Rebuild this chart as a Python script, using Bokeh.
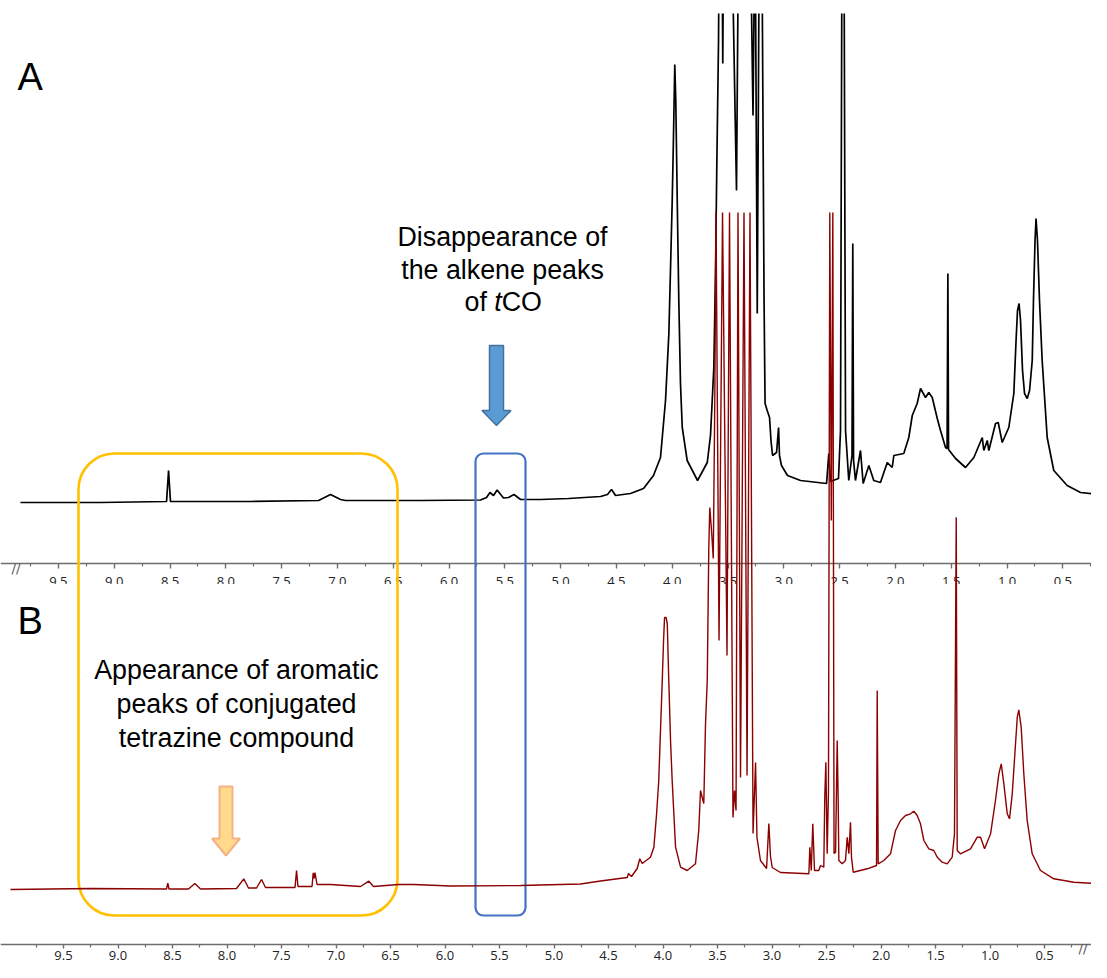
import numpy as np
from bokeh.plotting import figure
from bokeh.models import (Range1d, LinearAxis, FixedTicker, PrintfTickFormatter,
                          BoxAnnotation, Label)
from bokeh.embed import file_html
from bokeh.resources import INLINE

# ---------------- data ----------------
# Spectrum A (black): chemical shift (ppm) and intensity (a.u.)
a_ppm = [9.840, 9.123, 8.531, 8.513, 8.496, 7.779, 7.169, 7.062, 6.972, 6.927,
         6.255, 5.718, 5.664, 5.633, 5.601, 5.569, 5.512, 5.467, 5.418, 5.359,
         5.180, 4.929, 4.642, 4.580, 4.544, 4.508, 4.374, 4.257, 4.168, 4.105,
         4.060, 4.030, 4.015, 4.000, 3.991, 3.977, 3.968, 3.955, 3.941, 3.926,
         3.910, 3.866, 3.773, 3.686, 3.657, 3.627, 3.612, 3.601, 3.585, 3.567,
         3.547, 3.527, 3.487, 3.424, 3.397, 3.316, 3.276, 3.258, 3.238, 3.209,
         3.177, 3.168, 3.149, 3.128, 3.115, 3.101, 3.065, 3.047, 3.039, 3.021,
         2.967, 2.850, 2.617, 2.597, 2.582, 2.510, 2.492, 2.470, 2.447, 2.418,
         2.389, 2.382, 2.375, 2.358, 2.313, 2.289, 2.238, 2.194, 2.134, 2.073,
         2.029, 2.014, 1.925, 1.880, 1.849, 1.805, 1.775, 1.730, 1.701, 1.670,
         1.625, 1.596, 1.551, 1.537, 1.530, 1.524, 1.461, 1.372, 1.297, 1.222,
         1.208, 1.177, 1.163, 1.103, 1.079, 1.043, 0.984, 0.939, 0.919, 0.906,
         0.892, 0.879, 0.861, 0.843, 0.819, 0.798, 0.774, 0.763, 0.749, 0.740,
         0.727, 0.709, 0.685, 0.640, 0.581, 0.461, 0.341, 0.099]
a_int = [3, 3, 4, 35, 4, 4, 5, 11, 6, 5,
         5, 5.5, 8, 13, 10, 15.5, 7.5, 8, 11, 6,
         6, 7, 9, 11, 16, 10, 12, 17, 30, 48,
         105, 172, 238, 305, 355, 441, 405, 305, 205, 122,
         78, 45, 25, 43, 70, 138, 235, 335, 465, 805,
         442, 805, 705, 315, 705, 705, 390, 605, 192, 805,
         205, 102, 95, 88, 65, 50, 53, 78, 50, 40,
         30, 25, 22, 52, 24, 27, 75, 905, 75, 25,
         50, 262, 45, 25, 55, 22, 40, 25, 23, 43,
         38, 50, 52, 68, 90, 102, 117, 108, 113, 108,
         87, 75, 58, 57, 232, 56, 47, 38, 48, 68,
         55, 65, 55, 82, 83, 63, 78, 112, 165, 195,
         202, 185, 135, 112, 107, 115, 145, 205, 265, 287,
         265, 205, 145, 68, 35, 20, 13, 10]

# Spectrum B (dark red): chemical shift (ppm) and intensity (a.u.)
b_ppm = [9.986, 9.252, 8.555, 8.543, 8.532, 8.353, 8.295, 8.243, 7.913, 7.846,
         7.803, 7.729, 7.683, 7.647, 7.376, 7.362, 7.349, 7.220, 7.209, 7.200,
         7.193, 7.174, 7.050, 6.775, 6.699, 6.656, 6.427, 6.289, 5.950, 5.307,
         4.757, 4.573, 4.328, 4.317, 4.289, 4.237, 4.213, 4.191, 4.115, 4.084,
         4.060, 4.039, 4.023, 4.007, 3.995, 3.986, 3.972, 3.961, 3.947, 3.931,
         3.916, 3.885, 3.839, 3.778, 3.702, 3.672, 3.656, 3.640, 3.626, 3.610,
         3.594, 3.580, 3.571, 3.555, 3.539, 3.525, 3.514, 3.486, 3.454, 3.413,
         3.390, 3.358, 3.344, 3.330, 3.312, 3.289, 3.257, 3.229, 3.202, 3.174,
         3.151, 3.138, 3.106, 3.050, 3.029, 3.014, 2.998, 2.922, 2.662, 2.653,
         2.640, 2.626, 2.610, 2.571, 2.555, 2.525, 2.516, 2.506, 2.494, 2.482,
         2.470, 2.456, 2.442, 2.431, 2.417, 2.402, 2.393, 2.387, 2.356, 2.326,
         2.310, 2.295, 2.280, 2.271, 2.255, 2.127, 2.041, 2.035, 2.026, 1.974,
         1.913, 1.867, 1.821, 1.775, 1.729, 1.699, 1.668, 1.638, 1.607, 1.561,
         1.516, 1.484, 1.439, 1.393, 1.347, 1.326, 1.310, 1.301, 1.271, 1.179,
         1.117, 1.087, 1.050, 0.995, 0.950, 0.919, 0.897, 0.873, 0.842, 0.821,
         0.796, 0.772, 0.750, 0.736, 0.714, 0.690, 0.659, 0.613, 0.537, 0.415,
         0.231, -0.014]
b_int = [3, 4, 3.5, 9.3, 3.5, 3.5, 9, 3.5, 4, 13.7,
         4.5, 4.5, 13, 5, 5, 22, 6, 6, 19.7, 14,
         20, 8, 8, 6, 11.3, 6, 8, 8, 6.5, 7,
         8.5, 11.5, 15, 19, 16, 24, 33.7, 29, 35.3, 45.3,
         77, 112, 162, 212, 252, 275, 275, 269, 212, 152,
         112, 45.3, 25.3, 22, 28.7, 62, 102, 95, 89, 169,
         212, 345, 385, 362, 334, 492, 792, 252, 792, 237,
         792, 75, 102, 82, 792, 115, 792, 117, 792, 59,
         130, 55, 32, 24, 69, 36, 25, 20, 18.7, 45.3,
         22, 68.7, 22, 22, 27, 25.3, 95.3, 130.3, 38.7, 102,
         792, 372, 792, 39, 40.3, 152, 92, 32, 28.7, 32,
         55.3, 38.7, 70.3, 35.3, 20.3, 23.7, 27, 202, 28.7, 32,
         38.7, 62, 72, 77, 78.7, 81.3, 77, 68.7, 52, 43.7,
         42, 35.3, 30.3, 28.7, 35.3, 59, 375.3, 42, 38.7, 43.7,
         55.3, 55.3, 43.7, 58.7, 92, 118.7, 128.7, 108.7, 78.7, 73.7,
         98.7, 138.7, 175.3, 182.7, 165.3, 118.7, 72, 38.7, 22, 13.7,
         10.3, 8.7]

# axis ticks (ppm)
major_ticks = [0.5, 1.0, 1.5, 2.0, 2.5, 3.0, 3.5, 4.0, 4.5, 5.0,
               5.5, 6.0, 6.5, 7.0, 7.5, 8.0, 8.5, 9.0, 9.5]
minor_ticks = [0.25, 0.75, 1.25, 1.75, 2.25, 2.75, 3.25, 3.75, 4.25, 4.75,
               5.25, 5.75, 6.25, 6.75, 7.25, 7.75, 8.25, 8.75, 9.25, 9.75]

B_CLIP = 680  # spectrum B is cut off at this intensity in the figure

# ---------------- figure ----------------
p = figure(width=1091, height=962, x_range=Range1d(10.078, 0.069),
           y_range=Range1d(962, 13), x_axis_type=None, y_axis_type=None,
           toolbar_location=None, output_backend="svg",
           min_border=0, min_border_top=13, outline_line_color=None)
p.background_fill_color = "white"
p.border_fill_color = "white"
p.extra_x_ranges = {"A": Range1d(10.019, 0.243), "px": Range1d(0, 1091)}
p.extra_y_ranges = {"A": Range1d(-457, 492), "B": Range1d(-70, 879)}

p.line(a_ppm, a_int, x_range_name="A", y_range_name="A",
       line_color="black", line_width=1.7)


def make_axis(loc, range_name="default", tick_out=5, standoff=4):
    return LinearAxis(
        x_range_name=range_name, fixed_location=loc,
        ticker=FixedTicker(ticks=major_ticks, minor_ticks=minor_ticks),
        formatter=PrintfTickFormatter(format="%.1f"),
        axis_line_color="#6e6e6e", axis_line_width=1.6,
        major_tick_line_color="#6e6e6e", major_tick_line_width=1.4,
        major_tick_in=0, major_tick_out=tick_out,
        minor_tick_line_color="#6e6e6e", minor_tick_line_width=1.2,
        minor_tick_in=0, minor_tick_out=3,
        major_label_text_font="Open Sans", major_label_text_font_size="13px",
        major_label_text_color="#222222", major_label_standoff=standoff)


p.add_layout(make_axis(563, "A", standoff=8), "below")
p.add_layout(make_axis(944, tick_out=4, standoff=2), "below")

# lower part of the upper axis labels is hidden behind panel B
p.add_layout(BoxAnnotation(left=0, right=1091, top=583.5, bottom=598,
                           x_range_name="px", fill_color="white", fill_alpha=1,
                           line_color=None))

# highlight boxes
p.add_layout(BoxAnnotation(left=78, right=397, top=453, bottom=915,
                           x_range_name="px", fill_alpha=0, line_color="#FFC000",
                           line_alpha=1, line_width=2.6, border_radius=36))
p.add_layout(BoxAnnotation(left=475, right=525, top=453, bottom=915,
                           x_range_name="px", fill_alpha=0, line_color="#4472C4",
                           line_alpha=1, line_width=2.2, border_radius=8))

p.line(b_ppm, np.minimum(b_int, B_CLIP), y_range_name="B",
       line_color="#8B0000", line_width=1.4, level="overlay")


def arrow(cx, y0, y1, y2, sw, hw):
    xs = [cx - sw, cx + sw, cx + sw, cx + hw, cx, cx - hw, cx - sw]
    ys = [y0, y0, y1, y1, y2, y1, y1]
    return xs, ys


bx, by = arrow(496, 345, 410, 425, 7, 14.5)
p.patch(bx, by, x_range_name="px", fill_color="#5B9BD5",
        line_color="#41719C", line_width=1.5)
ox, oy = arrow(225.5, 786, 838, 855, 6.5, 14)
p.patch(ox, oy, x_range_name="px", fill_color="#FFD98C",
        line_color="#F4B183", line_width=2)

FONT = "Liberation Sans"
for txt, y in [("Disappearance of", 236), ("the alkene peaks", 269)]:
    p.add_layout(Label(x=502, y=y, x_range_name="px", text=txt, text_align="center",
                       text_baseline="alphabetic", text_font=FONT,
                       text_font_size="26.8px", text_color="black"))
for txt, x, st in [("of ", 464, "normal"), ("t", 493.8, "italic"), ("CO", 501.2, "normal")]:
    p.add_layout(Label(x=x, y=301, x_range_name="px", text=txt, text_align="left",
                       text_baseline="alphabetic", text_font=FONT,
                       text_font_size="26.8px", text_font_style=st, text_color="black"))
for txt, y in [("Appearance of aromatic", 669), ("peaks of conjugated", 703),
               ("tetrazine compound", 737)]:
    p.add_layout(Label(x=236, y=y, x_range_name="px", text=txt, text_align="center",
                       text_baseline="alphabetic", text_font=FONT,
                       text_font_size="26.8px", text_color="black"))

p.add_layout(Label(x=17, y=76, x_range_name="px", text="A", text_baseline="alphabetic",
                   text_font=FONT, text_font_size="38px", text_color="black"))
p.add_layout(Label(x=17, y=620, x_range_name="px", text="B", text_baseline="alphabetic",
                   text_font=FONT, text_font_size="38px", text_color="black"))

p.add_layout(Label(x=11, y=568, x_range_name="px", text="//", text_baseline="alphabetic",
                   text_font="DejaVu Sans", text_font_size="13px", text_color="#555555"))
p.add_layout(Label(x=1078, y=948, x_range_name="px", text="//", text_baseline="alphabetic",
                   text_font="DejaVu Sans", text_font_size="13px", text_color="#555555"))

open("out.html", "w").write(file_html(p, INLINE))
